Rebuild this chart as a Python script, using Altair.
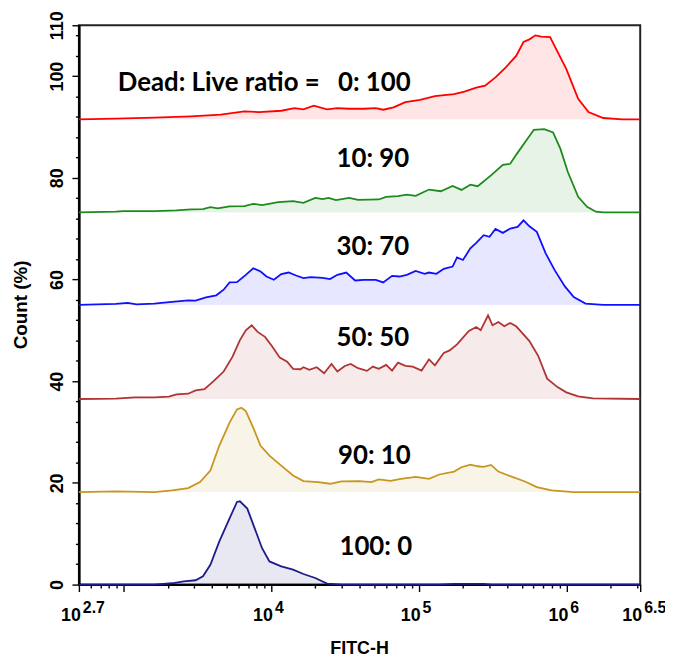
import altair as alt
import pandas as pd

# ---------------- data ----------------
series_names = ["0: 100", "10: 90", "30: 70", "50: 50", "90: 10", "100: 0"]
series_colors = ["#FF0000", "#1E8A1E", "#1010FF", "#B03434", "#C8961E", "#1C1C8C"]
series_offsets = [91.5, 73.2, 55.0, 36.5, 18.2, 0.0]

# log10(FITC-H) positions and count heights above each baseline (%)
red_log = [2.70, 2.95, 3.21, 3.46, 3.66, 3.82, 3.92, 4.07, 4.16, 4.22, 4.29, 4.38, 4.45, 4.53,
           4.63, 4.71, 4.76, 4.83, 4.91, 5.01, 5.11, 5.19, 5.24, 5.31, 5.39, 5.45, 5.52, 5.59,
           5.66, 5.71, 5.75, 5.79, 5.83, 5.89, 5.92, 6.00, 6.08, 6.15, 6.25, 6.38, 6.50]
red_cnt = [0, 0.13, 0.33, 0.59, 0.91, 1.56, 1.43, 1.69, 2.21, 1.95, 2.67, 1.95, 2.21, 2.08,
           2.08, 2.21, 1.89, 2.34, 3.38, 3.84, 4.55, 4.81, 4.94, 5.46, 6.24, 6.63, 8.26, 10.21,
           12.48, 15.21, 15.73, 16.51, 16.25, 16.19, 14.43, 9.88, 4.03, 1.43, 0.26, 0, 0]

green_log = [2.70, 2.95, 3.00, 3.21, 3.36, 3.46, 3.54, 3.59, 3.64, 3.72, 3.82, 3.88, 3.94, 4.05,
             4.15, 4.22, 4.30, 4.35, 4.39, 4.44, 4.53, 4.59, 4.73, 4.78, 4.86, 4.92, 4.98, 5.07,
             5.15, 5.23, 5.29, 5.35, 5.40, 5.49, 5.57, 5.62, 5.66, 5.72, 5.78, 5.85, 5.91, 5.96,
             6.01, 6.08, 6.14, 6.20, 6.25, 6.50]
green_cnt = [0, 0.13, 0.26, 0.26, 0.39, 0.59, 0.65, 1.04, 0.78, 1.17, 1.24, 1.69, 1.43, 2.02,
             2.21, 1.89, 2.86, 2.6, 2.86, 2.41, 2.86, 2.47, 2.54, 3.06, 3.19, 3.51, 3.25, 4.49,
             4.16, 5.2, 4.42, 5.46, 5.14, 7.28, 9.36, 9.56, 11.31, 13.78, 16.25, 16.38, 15.73,
             12.48, 7.93, 3.06, 1.11, 0.13, 0, 0]

blue_log = [2.70, 2.95, 3.03, 3.09, 3.21, 3.33, 3.44, 3.49, 3.56, 3.63, 3.68, 3.72, 3.77, 3.83,
            3.88, 3.93, 3.97, 4.02, 4.07, 4.12, 4.17, 4.22, 4.27, 4.35, 4.40, 4.45, 4.51, 4.57,
            4.63, 4.71, 4.76, 4.82, 4.87, 4.92, 4.98, 5.04, 5.07, 5.12, 5.17, 5.23, 5.26, 5.30,
            5.35, 5.39, 5.44, 5.48, 5.52, 5.57, 5.62, 5.67, 5.71, 5.75, 5.80, 5.86, 5.92, 5.99,
            6.05, 6.13, 6.25, 6.50]
blue_cnt = [0, 0.2, 0.39, 0.1, 0.26, 0.59, 0.91, 0.85, 1.5, 1.89, 2.99, 4.42, 4.49, 5.92,
            7.22, 6.57, 5.59, 4.94, 6.05, 6.37, 5.79, 5.27, 5.46, 5.33, 5.07, 5.92, 6.37, 4.81,
            4.94, 4.94, 4.42, 5.72, 5.59, 5.92, 6.7, 6.11, 6.37, 6.11, 7.09, 7.54, 9.36, 8.84,
            11.12, 12.22, 13.72, 13.39, 14.95, 14.17, 15.01, 15.34, 16.64, 15.47, 14.37, 10.14,
            6.89, 3.64, 1.56, 0.26, 0, 0]

darkred_log = [2.70, 2.95, 3.08, 3.21, 3.31, 3.36, 3.44, 3.49, 3.55, 3.61, 3.68, 3.74, 3.79,
               3.83, 3.87, 3.91, 3.96, 4.01, 4.06, 4.11, 4.15, 4.20, 4.22, 4.26, 4.31, 4.36,
               4.41, 4.45, 4.50, 4.54, 4.59, 4.65, 4.69, 4.73, 4.78, 4.82, 4.86, 4.91, 4.96,
               5.02, 5.07, 5.11, 5.17, 5.21, 5.26, 5.34, 5.39, 5.42, 5.47, 5.50, 5.54, 5.58,
               5.62, 5.66, 5.69, 5.75, 5.81, 5.87, 5.94, 6.00, 6.08, 6.18, 6.50]
darkred_cnt = [0, 0.07, 0.33, 0.33, 0.46, 0.91, 1.04, 1.69, 1.95, 3.45, 5.4, 8.32, 11.57,
               13.52, 14.5, 13.2, 12.22, 10.27, 8.13, 7.35, 5.92, 5.85, 6.24, 5.72, 6.24, 5.07,
               6.89, 5.4, 6.5, 6.89, 6.05, 5.53, 6.37, 5.92, 6.7, 5.59, 7.15, 6.5, 6.37, 5.59,
               7.8, 6.63, 9.04, 9.56, 10.73, 13.39, 14.17, 13.52, 16.45, 14.5, 15.15, 14.3,
               14.95, 14.3, 13.33, 11.38, 8.45, 4.0, 2.34, 1.3, 0.52, 0.13, 0]

gold_log = [2.70, 2.95, 3.21, 3.33, 3.44, 3.52, 3.59, 3.65, 3.72, 3.77, 3.80, 3.83, 3.88, 3.93,
            3.99, 4.07, 4.15, 4.22, 4.32, 4.40, 4.48, 4.60, 4.68, 4.73, 4.81, 4.88, 4.98, 5.07,
            5.14, 5.24, 5.29, 5.35, 5.40, 5.44, 5.49, 5.54, 5.62, 5.72, 5.80, 5.90, 6.05, 6.50]
gold_cnt = [0, 0.13, 0, 0.33, 0.78, 1.95, 4.23, 9.1, 13.65, 16.25, 16.58, 15.93, 12.68, 9.1,
            7.15, 5.2, 3.25, 2.15, 1.95, 1.63, 2.08, 2.15, 1.95, 2.47, 2.21, 2.6, 2.99, 2.6,
            3.45, 4.03, 4.88, 5.4, 5.07, 4.94, 5.33, 4.03, 3.12, 2.08, 0.98, 0.33, 0, 0]

navy_log = [2.70, 3.21, 3.33, 3.41, 3.49, 3.54, 3.59, 3.65, 3.72, 3.77, 3.79, 3.84, 3.89, 3.94,
            3.99, 4.07, 4.15, 4.22, 4.30, 4.38, 4.48, 5.14, 5.24, 5.44, 5.49, 6.50]
navy_cnt = [0, 0, 0.26, 0.65, 0.85, 1.63, 3.9, 8.45, 13.0, 16.25, 16.38, 14.95, 11.05, 7.15,
            4.55, 3.58, 2.93, 2.08, 1.3, 0.2, 0, 0, 0.13, 0.13, 0, 0]

series_logs = [red_log, green_log, blue_log, darkred_log, gold_log, navy_log]
series_cnts = [red_cnt, green_cnt, blue_cnt, darkred_cnt, gold_cnt, navy_cnt]

# annotation labels (log10 x, y in %)
ann_text = series_names
ann_log = [4.70, 4.69, 4.69, 4.69, 4.70, 4.71]
ann_y = [98.6, 83.6, 66.4, 48.5, 25.3, 7.3]
prefix_text = "Dead: Live ratio ="

# axis labels
x_label_exps = [2.7, 4, 5, 6, 6.5]
x_label_sup = ["2.7", "4", "5", "6", "6.5"]
y_major_values = [0, 20, 40, 60, 80, 100, 110]
y_minor_values = [v for v in range(0, 110, 4) if v % 20 != 0]

# ---------------- build tables ----------------
rows = []
for name, off, lg, ct in zip(series_names, series_offsets, series_logs, series_cnts):
    for i, (l, c) in enumerate(zip(lg, ct)):
        rows.append({"series": name, "i": i, "fitc": 10 ** l, "count": off + c, "base": off})
df = pd.DataFrame(rows)

ann_df = pd.DataFrame({"text": ann_text, "fitc": [10 ** v for v in ann_log], "count": ann_y})
prefix_df = pd.DataFrame({"text": [prefix_text], "fitc": [10 ** 4.33], "count": [ann_y[0]]})
xl_df = pd.DataFrame({"fitc": [10 ** e for e in x_label_exps], "base": ["10"] * 5, "sup": x_label_sup})

x_major = [10 ** 2.7, 1e3, 1e4, 1e5, 1e6, 10 ** 6.5]
x_minor = [600, 700, 800, 900]
for dec in [1e3, 1e4, 1e5]:
    x_minor += [dec * k for k in range(2, 10)]
x_minor += [2e6, 3e6]

W, H = 566, 564
FONT = "Liberation Sans"

xscale = alt.Scale(type="log", domain=[10 ** 2.7, 10 ** 6.5], nice=False)
yscale = alt.Scale(domain=[0, 110], nice=False, zero=False)

common = dict(grid=False, ticks=True, tickWidth=1.4, tickColor="black",
              domainColor="black", domainWidth=2, title=None)

# main axes (major ticks + labels on y)
x_axis_major = alt.Axis(values=x_major, labels=False, tickSize=7, orient="bottom", **common)
y_axis_major = alt.Axis(
    values=y_major_values, tickSize=7, labelOverlap=False, orient="left",
    labelAngle=270, labelAlign="center", labelBaseline="alphabetic", labelPadding=10,
    labelFont=FONT, labelFontWeight="bold", labelFontSize=18, labelColor="black", **common,
)
# minor-tick axes (no labels, drawn at the same place)
x_axis_minor = alt.Axis(values=x_minor, labels=False, tickSize=3.5, orient="bottom", **common)
y_axis_minor = alt.Axis(values=y_minor_values, labels=False, tickSize=3.5, orient="left", **common)

color = alt.Color("series:N", scale=alt.Scale(domain=series_names, range=series_colors), legend=None)

base = alt.Chart(df)
area = base.mark_area(opacity=0.1).encode(
    x=alt.X("fitc:Q", scale=xscale, axis=x_axis_major),
    y=alt.Y("count:Q", scale=yscale, axis=y_axis_major),
    y2="base:Q",
    color=color,
    detail="series:N",
)
line = base.mark_line(strokeWidth=1.8).encode(
    x=alt.X("fitc:Q", scale=xscale, axis=x_axis_minor),
    y=alt.Y("count:Q", scale=yscale, axis=y_axis_minor),
    color=color,
    detail="series:N",
    order="i:Q",
)

ann = alt.Chart(ann_df).mark_text(
    font="Lato", fontWeight="bold", fontSize=26, color="black", align="center", baseline="middle"
).encode(x=alt.X("fitc:Q", scale=xscale, axis=None), y=alt.Y("count:Q", scale=yscale, axis=None), text="text:N")

prefix = alt.Chart(prefix_df).mark_text(
    font="Lato", fontWeight="bold", fontSize=26, color="black", align="right", baseline="middle"
).encode(x=alt.X("fitc:Q", scale=xscale, axis=None), y=alt.Y("count:Q", scale=yscale, axis=None), text="text:N")

xl_base = alt.Chart(xl_df).mark_text(
    font=FONT, fontWeight="bold", fontSize=18, color="black", align="right", baseline="alphabetic", dx=2
).encode(x=alt.X("fitc:Q", scale=xscale, axis=None), y=alt.value(H + 37), text="base:N")
xl_sup = alt.Chart(xl_df).mark_text(
    font=FONT, fontWeight="bold", fontSize=16, color="black", align="left", baseline="alphabetic", dx=4
).encode(x=alt.X("fitc:Q", scale=xscale, axis=None), y=alt.value(H + 29), text="sup:N")

xtitle = alt.Chart(pd.DataFrame({"t": ["FITC-H"]})).mark_text(
    font=FONT, fontWeight="bold", fontSize=18, color="black", align="center", baseline="alphabetic"
).encode(x=alt.value(W / 2), y=alt.value(H + 70), text="t:N")
ytitle = alt.Chart(pd.DataFrame({"t": ["Count  (%)"]})).mark_text(
    font=FONT, fontWeight="bold", fontSize=19, color="black", align="center", baseline="middle", angle=270
).encode(x=alt.value(-58), y=alt.value(H / 2), text="t:N")

chart = alt.layer(area, line, ann, prefix, xl_base, xl_sup, xtitle, ytitle).resolve_axis(
    x="independent", y="independent"
).properties(
    width=W, height=H,
    autosize=alt.AutoSizeParams(type="none"),
    padding={"left": 71.5, "top": 14.7, "right": 25, "bottom": 70},
    background="white",
).configure_view(stroke="#222", strokeWidth=2).configure_axis(labelOverlap=False)

chart.save("out.html", embed_options={"renderer": "svg", "actions": False})
